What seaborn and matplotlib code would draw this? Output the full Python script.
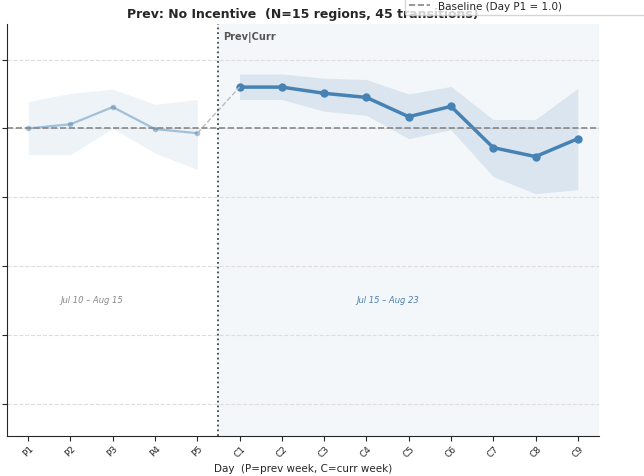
import numpy as np
import pandas as pd
import seaborn as sns
import matplotlib
matplotlib.use("Agg")
import matplotlib.pyplot as plt

sns.set_style("ticks")
plt.rcParams['font.family'] = ['DejaVu Sans']

# Data (index relative to Day P1 = 1.0)
prev_days = ['P1', 'P2', 'P3', 'P4', 'P5']
curr_days = ['C1', 'C2', 'C3', 'C4', 'C5', 'C6', 'C7', 'C8', 'C9']

prev_mean = [1.000, 1.006, 1.031, 0.999, 0.993]
prev_upper = [1.039, 1.051, 1.057, 1.035, 1.042]
prev_lower = [0.962, 0.962, 1.000, 0.964, 0.940]

curr_mean = [1.060, 1.060, 1.051, 1.045, 1.017, 1.032, 0.972, 0.959, 0.985]
curr_upper = [1.079, 1.079, 1.073, 1.071, 1.050, 1.061, 1.013, 1.013, 1.058]
curr_lower = [1.042, 1.042, 1.025, 1.019, 0.985, 0.998, 0.930, 0.905, 0.911]

prev_range = "Jul 10 \u2013 Aug 15"
curr_range = "Jul 15 \u2013 Aug 23"

color = '#4682b4'

all_days = prev_days + curr_days
prev_x = np.arange(len(prev_days))
curr_x = np.arange(len(prev_days), len(all_days))

prev_df = pd.DataFrame({'x': prev_x, 'y': prev_mean})
curr_df = pd.DataFrame({'x': curr_x, 'y': curr_mean})

fig = plt.figure(figsize=(6.44, 4.77), dpi=100)
ax = fig.add_axes([0.011, 0.084, 0.919, 0.864])

# current-week shaded background
ax.axvspan(len(prev_days) - 0.5, len(all_days) - 0.5, color=color, alpha=0.06, lw=0, zorder=0)

# bands
ax.fill_between(prev_x, prev_lower, prev_upper, color=color, alpha=0.09, lw=0)
ax.fill_between(curr_x, curr_lower, curr_upper, color=color, alpha=0.15, lw=0)

# lines
sns.lineplot(data=prev_df, x='x', y='y', ax=ax, color=color, alpha=0.45,
             lw=1.6, marker='o', markersize=4, markeredgewidth=0)
sns.lineplot(data=curr_df, x='x', y='y', ax=ax, color=color,
             lw=2.5, marker='o', markersize=6, markeredgewidth=0)

# connector P5 -> C1
ax.plot([prev_x[-1], curr_x[0]], [prev_mean[-1], curr_mean[0]],
        color='#bbbbbb', ls='--', lw=1)

# baseline
ax.axhline(1.0, color='#888888', ls='--', lw=1.2, label='Baseline (Day P1 = 1.0)')

# week divider
ax.axvline(len(prev_days) - 0.5, color='#444444', ls=':', lw=1.3)
ax.text(len(prev_days) - 0.4, 1.134, 'Prev|Curr', fontsize=7, fontweight='bold',
        color='#555555', ha='left', va='center')

ax.text(1.5, 0.752, prev_range, fontsize=6, style='italic', color='#888888',
        ha='center', va='center')
ax.text(8.5, 0.752, curr_range, fontsize=6, style='italic', color='#4a7fb0',
        ha='center', va='center')

ax.set_xlim(-0.5, len(all_days) - 0.5)
ax.set_ylim(0.553, 1.152)
ax.set_yticks([0.6, 0.7, 0.8, 0.9, 1.0, 1.1])
ax.set_xticks(np.arange(len(all_days)))
ax.set_xticklabels(all_days, rotation=45, fontsize=6.5)
ax.tick_params(axis='x', pad=2)
ax.yaxis.grid(True, ls='--', color='#dddddd', lw=0.8)
ax.set_xlabel('Day  (P=prev week, C=curr week)', fontsize=7.5, labelpad=3)
ax.set_ylabel('')
ax.set_title('Prev: No Incentive  (N=15 regions, 45 transitions)',
             fontsize=9, fontweight='bold', pad=5)
sns.despine(ax=ax)

ax.legend(loc='lower left', bbox_to_anchor=(405 / 644, 1 - 16 / 477, 260 / 644, 0.05),
          bbox_transform=fig.transFigure, mode='expand', fontsize=7.5,
          frameon=True, borderaxespad=0)

fig.savefig('out.png', dpi=100)
